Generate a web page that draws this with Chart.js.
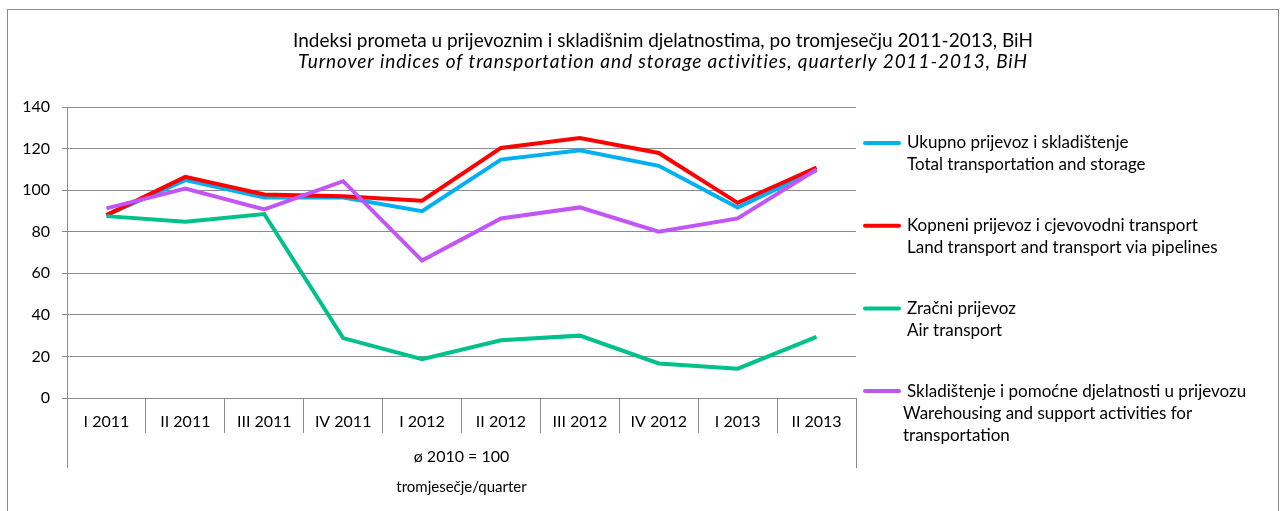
<!DOCTYPE html>
<html>
<head>
<meta charset="utf-8">
<script src="https://cdn.jsdelivr.net/npm/chart.js@4"></script>
<style>
	html, body { margin: 0; padding: 0; background: #fff; }
	#wrap { position: relative; width: 1280px; height: 511px; }
</style>
</head>
<body>
<div id="wrap"><canvas id="chart-turnover" width="1280" height="511"></canvas></div>
<script>
// Chart data
const QUARTERS = ["I 2011", "II 2011", "III 2011", "IV 2011", "I 2012", "II 2012", "III 2012", "IV 2012", "I 2013", "II 2013"];

const TOTAL = [88, 104.8, 96.5, 96.5, 89.9, 114.7, 119.2, 111.7, 91.7, 109.6];
const LAND = [88, 106.4, 97.9, 97.1, 94.9, 120.3, 125.1, 117.9, 93.9, 110.9];
const AIR = [87.5, 84.8, 88.5, 28.8, 18.7, 27.8, 30, 16.6, 14.1, 29.4];
const WAREHOUSING = [91.2, 100.8, 90.7, 104.3, 66.1, 86.4, 91.7, 80, 86.4, 109.9];

const Y_TICKS = [0, 20, 40, 60, 80, 100, 120, 140];

const TITLE = "Indeksi prometa u prijevoznim i skladišnim djelatnostima, po tromjesečju 2011-2013, BiH";
const SUBTITLE = "Turnover indices of transportation and storage activities, quarterly 2011-2013, BiH";
const BASE_LABEL = "ø 2010 = 100";
const AXIS_TITLE = "tromjesečje/quarter";

const LEGEND_LINES = [
	["Ukupno prijevoz i skladištenje", "Total transportation and storage"],
	["Kopneni prijevoz i cjevovodni transport", "Land transport and transport via pipelines"],
	["Zračni prijevoz", "Air transport"],
	["Skladištenje i pomoćne djelatnosti u prijevozu", "Warehousing and support activities for", "transportation"],
];

const FONT = "Lato, 'Open Sans', sans-serif";
const GRID_COLOR = "#8c8c8c";

const line = (label, data, color, order) => ({
	label: label,
	data: data,
	borderColor: color,
	backgroundColor: color,
	borderWidth: 4,
	tension: 0,
	pointRadius: 0,
	order: order,
});

const CHART_DATA = {
	labels: QUARTERS,
	datasets: [
		line(LEGEND_LINES[0].join(" "), TOTAL, "#00b0f0", 3),
		line(LEGEND_LINES[1].join(" "), LAND, "#ff0000", 2),
		line(LEGEND_LINES[2].join(" "), AIR, "#00c08b", 1),
		line(LEGEND_LINES[3].join(" "), WAREHOUSING, "#c355f7", 0),
	],
};

// Frame, titles, bottom table and legend
const decorations = {
	id: "decorations",
	afterDraw(chart) {
		const { ctx, chartArea } = chart;
		ctx.save();

		// outer frame
		ctx.strokeStyle = GRID_COLOR;
		ctx.lineWidth = 1;
		ctx.strokeRect(7.5, 9.5, 1271, 600);

		// titles
		ctx.fillStyle = "#000";
		ctx.textAlign = "center";
		ctx.textBaseline = "middle";
		ctx.font = "19px " + FONT;
		ctx.fillText(TITLE, 663, 41);
		ctx.font = "italic 19px " + FONT;
		ctx.letterSpacing = "0.9px";
		ctx.fillText(SUBTITLE, 663, 62);
		ctx.letterSpacing = "0px";

		// outer lines of the category table
		ctx.beginPath();
		ctx.moveTo(Math.round(chartArea.left) + 0.5, chartArea.bottom);
		ctx.lineTo(Math.round(chartArea.left) + 0.5, 468);
		ctx.moveTo(Math.round(chartArea.right) + 0.5, chartArea.bottom);
		ctx.lineTo(Math.round(chartArea.right) + 0.5, 468);
		ctx.stroke();

		const mid = (chartArea.left + chartArea.right) / 2;
		ctx.font = "16px " + FONT;
		ctx.fillText(BASE_LABEL, mid, 457);
		ctx.font = "15px " + FONT;
		ctx.fillText(AXIS_TITLE, mid, 487);

		// legend
		ctx.textAlign = "left";
		ctx.font = "17px " + FONT;
		chart.data.datasets.forEach((ds, i) => {
			const y0 = 143 + i * 82.7;
			ctx.strokeStyle = ds.borderColor;
			ctx.lineWidth = 4;
			ctx.lineCap = "round";
			ctx.beginPath();
			ctx.moveTo(865, y0);
			ctx.lineTo(899, y0);
			ctx.stroke();
			LEGEND_LINES[i].forEach((text, j) => {
				const x = i === 3 && j > 0 ? 903 : 907;
				ctx.fillText(text, x, y0 + j * 22);
			});
		});

		ctx.restore();
	},
};

const CHART_CONFIG = {
	type: "line",
	data: CHART_DATA,
	options: {
		responsive: false,
		animation: false,
		layout: {
			padding: { left: 0, top: 107, right: 424, bottom: 0 },
		},
		scales: {
			x: {
				offset: true,
				border: { color: GRID_COLOR },
				grid: {
					offset: true,
					color: GRID_COLOR,
					drawOnChartArea: false,
					tickLength: 35,
				},
				ticks: {
					color: "#000",
					font: { family: FONT, size: 16 },
					padding: -21,
					maxRotation: 0,
					autoSkip: false,
				},
				afterFit: (scale) => {
					scale.height = 113;
				},
			},
			y: {
				min: 0,
				max: 140,
				border: { color: GRID_COLOR },
				grid: {
					color: GRID_COLOR,
					tickLength: 5,
				},
				afterBuildTicks: (scale) => {
					scale.ticks = Y_TICKS.map((v) => ({ value: v }));
				},
				ticks: {
					color: "#000",
					font: { family: FONT, size: 16 },
					padding: 12,
				},
				afterFit: (scale) => {
					scale.width = 67;
				},
			},
		},
		plugins: {
			legend: { display: false },
			tooltip: { enabled: false },
		},
	},
	plugins: [decorations],
};

new Chart(document.getElementById("chart-turnover"), CHART_CONFIG);
</script>
</body>
</html>
